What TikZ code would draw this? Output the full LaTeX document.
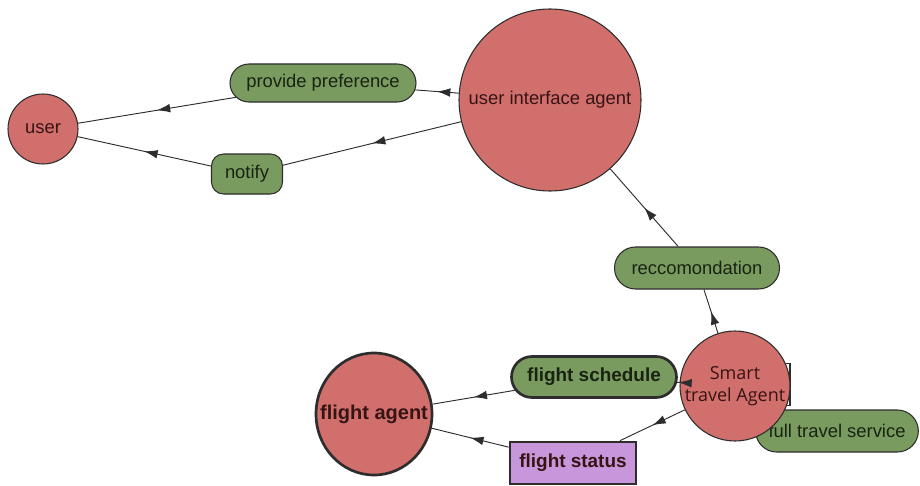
\documentclass[tikz,border=0pt]{standalone}
\usepackage{fontspec}
\setmainfont{Liberation Sans}
\newfontfamily\stafont{Open Sans}
\usetikzlibrary{shapes.misc,shapes.geometric,arrows.meta,decorations.markings}

\definecolor{agentred}{RGB}{208,111,108}
\definecolor{msggreen}{RGB}{122,155,96}
\definecolor{statpurple}{RGB}{200,150,218}
\definecolor{edgeline}{RGB}{45,45,45}
\definecolor{agenttext}{RGB}{55,20,20}
\definecolor{msgtext}{RGB}{25,35,18}

\tikzset{
  txt/.style={font=\fontsize{13.8}{16}\selectfont},
  boldtxt/.style={font=\bfseries\fontsize{14.2}{16}\selectfont},
  agent/.style={circle, draw=edgeline, line width=0.8pt, fill=agentred,
    text=agenttext, inner sep=0pt, txt},
  msg/.style={rounded rectangle, draw=edgeline, line width=0.8pt,
    fill=msggreen, text=msgtext, inner sep=0pt, txt},
  heavy/.style={line width=2pt},
  flow/.style={draw=edgeline, line width=0.7pt, postaction={decorate},
    decoration={markings, mark=at position 0.5 with
      {\arrow{Latex[length=10pt,width=6.5pt]}}}},
}

\begin{document}
\begin{tikzpicture}[x=0.75pt, y=-0.75pt]
  \useasboundingbox (0,0) rectangle (920,485);

  % upper part: user and its interface agent
  \node[agent, minimum size=52.5pt] (user) at (43,129) {user};
  \node[agent, minimum size=136.5pt] (uia) at (550,100) {user interface agent};
  \node[msg, minimum width=139.5pt, minimum height=28.5pt] (pref) at (323,83) {provide preference};
  \node[rectangle, rounded corners=9pt, draw=edgeline, line width=0.8pt, fill=msggreen,
        text=msgtext, inner sep=0pt, txt, minimum width=53.25pt, minimum height=30pt]
        (notify) at (247,174) {notify};
  \node[msg, minimum width=123.75pt, minimum height=31.5pt] (rec) at (697,268) {reccomondation};

  % lower part: travel agent and flight agent
  \node[msg, minimum width=122pt, minimum height=31.5pt] (full) at (837,431) {full travel service};
  \node[rectangle, draw=edgeline, line width=0.8pt, fill=white,
        minimum width=52.5pt, minimum height=32pt] (svcbox) at (755,384.5) {};
  \node[agent, minimum size=82.5pt, align=center,
        font=\stafont\fontsize{13.5}{16}\selectfont] (sta) at (735,386) {Smart\\travel Agent};
  \node[msg, heavy, boldtxt, minimum width=123.75pt, minimum height=30.75pt]
        (sched) at (594,377) {flight schedule};
  \node[agent, ellipse, heavy, minimum width=87pt, minimum height=91.5pt,
        label={[boldtxt, font=\bfseries\fontsize{15}{16}\selectfont, text=agenttext]center:flight agent}]
        (fa) at (374,414) {};
  \node[rectangle, draw=edgeline, heavy, fill=statpurple, text=agenttext, boldtxt,
        minimum width=94.5pt, minimum height=31.5pt] (fst) at (573,463) {flight status};

  % message flows
  \draw[flow] (uia) -- (pref);
  \draw[flow] (pref) -- (user);
  \draw[flow] (uia) -- (notify);
  \draw[flow] (notify) -- (user);
  \draw[flow] (rec) -- (uia);
  \draw[flow] (sta) -- (rec);
  \draw[flow] (sta) -- (sched);
  \draw[flow] (sched) -- (fa);
  \draw[flow] (sta) -- (fst);
  \draw[flow] (fst) -- (fa);
\end{tikzpicture}
\end{document}
